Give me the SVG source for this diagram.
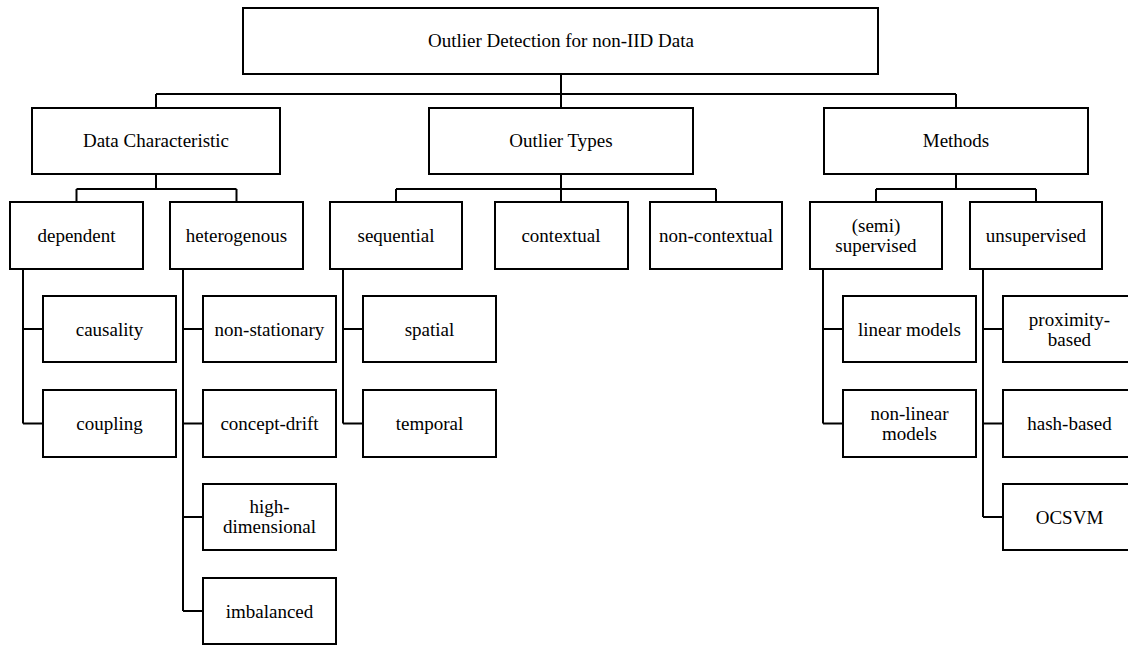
<svg xmlns="http://www.w3.org/2000/svg" width="1128" height="646" viewBox="0 0 1128 646">
<rect x="0" y="0" width="1128" height="646" fill="#fff"/>
<g id="connectors" fill="none" stroke="#000" stroke-width="2">
<path d="M561 74V94M156 94H956M156 94V108M561 94V108M956 94V108"/>
<path d="M156 174V189M76.5 189H236.5M76.5 189V202M236.5 189V202"/>
<path d="M561 174V189M396 189H716M396 189V202M561 189V202M716 189V202"/>
<path d="M956 174V189M876 189H1036M876 189V202M1036 189V202"/>
<path d="M23 269V423.5M23 329H43M23 423.5H43"/>
<path d="M183 269V611M183 329H203M183 423.5H203M183 517H203M183 611H203"/>
<path d="M343 269V423.5M343 329H363M343 423.5H363"/>
<path d="M823 269V423.5M823 329H843M823 423.5H843"/>
<path d="M983 269V517M983 329H1003M983 423.5H1003M983 517H1003"/>
</g>
<g id="boxes" fill="#fff" stroke="#000" stroke-width="2">
<rect id="root-box" x="243" y="8" width="635" height="66"/>
<rect id="data-characteristic-box" x="32" y="108" width="248" height="66"/>
<rect id="outlier-types-box" x="429" y="108" width="264" height="66"/>
<rect id="methods-box" x="824" y="108" width="264" height="66"/>
<rect id="dependent-box" x="10" y="202" width="133" height="67"/>
<rect id="heterogenous-box" x="170" y="202" width="133" height="67"/>
<rect id="sequential-box" x="330" y="202" width="132" height="67"/>
<rect id="contextual-box" x="495" y="202" width="133" height="67"/>
<rect id="non-contextual-box" x="650" y="202" width="132" height="67"/>
<rect id="semi-supervised-box" x="810" y="202" width="132" height="67"/>
<rect id="unsupervised-box" x="970" y="202" width="132" height="67"/>
<rect id="causality-box" x="43" y="296" width="133" height="66"/>
<rect id="coupling-box" x="43" y="390" width="133" height="67"/>
<rect id="non-stationary-box" x="203" y="296" width="133" height="66"/>
<rect id="concept-drift-box" x="203" y="390" width="133" height="67"/>
<rect id="high-dimensional-box" x="203" y="484" width="133" height="66"/>
<rect id="imbalanced-box" x="203" y="578" width="133" height="66"/>
<rect id="spatial-box" x="363" y="296" width="133" height="66"/>
<rect id="temporal-box" x="363" y="390" width="133" height="67"/>
<rect id="linear-models-box" x="843" y="296" width="133" height="66"/>
<rect id="non-linear-models-box" x="843" y="390" width="133" height="67"/>
<rect id="proximity-based-box" x="1003" y="296" width="133" height="66"/>
<rect id="hash-based-box" x="1003" y="390" width="133" height="67"/>
<rect id="ocsvm-box" x="1003" y="484" width="133" height="66"/>
</g>
<g id="labels" font-family="Liberation Serif" font-size="19" fill="#000" text-anchor="middle">
<text x="561" y="47">Outlier Detection for non-IID Data</text>
<text x="156" y="147">Data Characteristic</text>
<text x="561" y="147">Outlier Types</text>
<text x="956" y="147">Methods</text>
<text x="76.5" y="241.5">dependent</text>
<text x="236.5" y="241.5">heterogenous</text>
<text x="396" y="241.5">sequential</text>
<text x="561" y="241.5">contextual</text>
<text x="716" y="241.5">non-contextual</text>
<text x="876" y="232">(semi)</text>
<text x="876" y="252">supervised</text>
<text x="1036" y="241.5">unsupervised</text>
<text x="109.5" y="335.5">causality</text>
<text x="109.5" y="429.5">coupling</text>
<text x="269.5" y="335.5">non-stationary</text>
<text x="269.5" y="429.5">concept-drift</text>
<text x="269.5" y="513">high-</text>
<text x="269.5" y="533">dimensional</text>
<text x="269.5" y="617.5">imbalanced</text>
<text x="429.5" y="335.5">spatial</text>
<text x="429.5" y="429.5">temporal</text>
<text x="909.5" y="335.5">linear models</text>
<text x="909.5" y="420">non-linear</text>
<text x="909.5" y="440">models</text>
<text x="1069.5" y="326">proximity-</text>
<text x="1069.5" y="346">based</text>
<text x="1069.5" y="429.5">hash-based</text>
<text x="1069.5" y="523.5">OCSVM</text>
</g>
</svg>
